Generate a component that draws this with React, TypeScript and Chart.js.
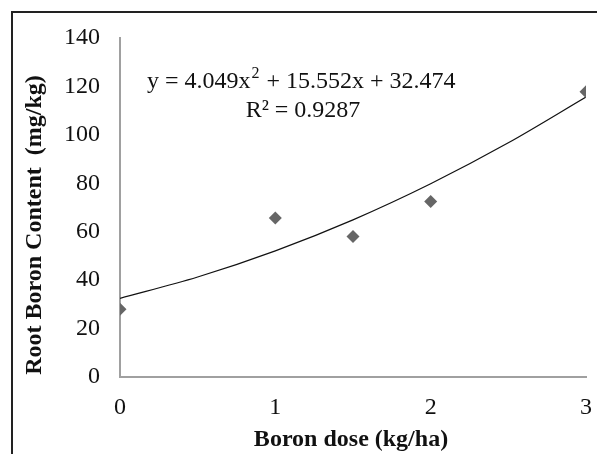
import React, { useEffect, useRef } from "react";
import { Chart, registerables } from "chart.js";

Chart.register(...registerables);

// Measured data (Boron dose vs. root boron content)
const doses = [0, 1, 1.5, 2, 3];
const rootBoron = [28, 65.7, 58, 72.5, 117.8];

// Polynomial trendline
const trendX = [0, 0.5, 1, 1.5, 2, 2.5, 3];
const trendY = [32.5, 41.3, 52.1, 64.9, 79.8, 96.7, 115.6];

const xTicks = [0, 1, 2, 3];
const yTicks = [0, 20, 40, 60, 80, 100, 120, 140];

const xTitle = "Boron dose (kg/ha)";
const yTitle = "Root Boron Content  (mg/kg)";
const eqMain = "y = 4.049x";
const eqSup = "2";
const eqRest = " + 15.552x + 32.474";
const rSquared = "R² = 0.9287";

const FONT = "'Liberation Serif', 'Times New Roman', serif";

const annotations = {
  id: "annotations",
  afterDraw(chart: any) {
    const ctx = chart.ctx;
    ctx.save();
    ctx.fillStyle = "#111";
    // y title
    ctx.font = `bold 24px ${FONT}`;
    ctx.textAlign = "center";
    ctx.textBaseline = "middle";
    ctx.save();
    ctx.translate(35, 225);
    ctx.rotate(-Math.PI / 2);
    ctx.fillText(yTitle, 0, 0);
    ctx.restore();
    // x title
    ctx.fillText(xTitle, 351, 440);
    // equation
    ctx.font = `24px ${FONT}`;
    ctx.textAlign = "left";
    ctx.textBaseline = "alphabetic";
    let x = 147;
    const base = 88;
    ctx.fillText(eqMain, x, base);
    x += ctx.measureText(eqMain).width;
    ctx.font = `16px ${FONT}`;
    ctx.fillText(eqSup, x + 1, base - 10);
    x += ctx.measureText(eqSup).width + 2;
    ctx.font = `24px ${FONT}`;
    ctx.fillText(eqRest, x, base);
    ctx.textAlign = "center";
    ctx.fillText(rSquared, 303, 117);
    ctx.restore();
  },
};

export default function App() {
  const ref = useRef<HTMLCanvasElement>(null);
  useEffect(() => {
    if (!ref.current) return;
    const chart = new Chart(ref.current, {
      type: "scatter",
      data: {
        datasets: [
          {
            label: "Root boron",
            data: doses.map((d, i) => ({ x: d, y: rootBoron[i] })),
            pointStyle: "rectRot",
            pointRadius: 6.5,
            backgroundColor: "#666",
            borderColor: "#666",
            borderWidth: 0,
            showLine: false,
          },
          {
            label: "Trend",
            data: trendX.map((d, i) => ({ x: d, y: trendY[i] })),
            showLine: true,
            pointRadius: 0,
            borderColor: "#111",
            borderWidth: 1.2,
            cubicInterpolationMode: "monotone",
          } as any,
        ],
      },
      plugins: [annotations],
      options: {
        animation: false,
        responsive: false,
        events: [],
        layout: { autoPadding: false, padding: { top: 38, right: 11, left: 0, bottom: 0 } },
        plugins: { legend: { display: false }, tooltip: { enabled: false } },
        scales: {
          x: {
            type: "linear",
            min: 0,
            max: 3,
            afterFit: (s: any) => {
              s.height = 77;
              s.paddingLeft = 0;
              s.paddingRight = 0;
            },
            afterBuildTicks: (s: any) => {
              s.ticks = xTicks.map((v) => ({ value: v }));
            },
            grid: { display: false, drawTicks: false },
            border: { color: "#a0a0a0", width: 2 },
            ticks: {
              padding: 16,
              color: "#111",
              font: { family: FONT, size: 24 },
            },
          },
          y: {
            min: 0,
            max: 140,
            afterFit: (s: any) => {
              s.width = 120;
              s.paddingTop = 0;
              s.paddingBottom = 0;
            },
            afterBuildTicks: (s: any) => {
              s.ticks = yTicks.map((v) => ({ value: v }));
            },
            grid: { display: false, drawTicks: false },
            border: { color: "#a0a0a0", width: 2 },
            ticks: {
              padding: 20,
              color: "#111",
              font: { family: FONT, size: 24 },
            },
          },
        },
      },
    });
    return () => chart.destroy();
  }, []);

  return (
    <div
      style={{
        position: "absolute",
        left: 0,
        top: 0,
        width: 597,
        height: 454,
        background: "#fff",
        overflow: "hidden",
      }}
    >
      <div
        style={{
          position: "absolute",
          left: 11,
          top: 11,
          width: 600,
          height: 460,
          border: "2px solid #222",
        }}
      />
      <canvas
        ref={ref}
        width={597}
        height={454}
        style={{ position: "absolute", left: 0, top: 0 }}
      />
    </div>
  );
}
